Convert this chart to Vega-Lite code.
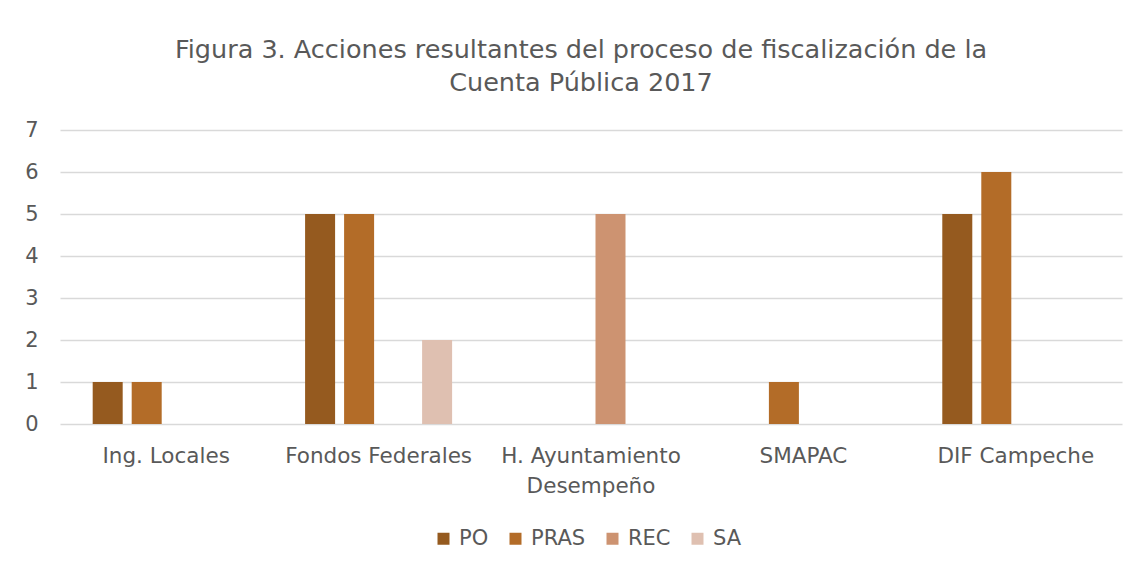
{
  "$schema": "https://vega.github.io/schema/vega-lite/v6.json",
  "width": 1062,
  "height": 294,
  "autosize": {"type": "none"},
  "padding": {"left": 60, "top": 130, "right": 25, "bottom": 145},
  "background": "white",
  "title": {
    "text": ["Figura 3. Acciones resultantes del proceso de fiscalización de la", "Cuenta Pública 2017"],
    "font": "DejaVu Sans",
    "fontSize": 25.5,
    "fontWeight": "normal",
    "color": "#595959",
    "lineHeight": 33,
    "anchor": "middle",
    "dx": -10,
    "offset": 23
  },
  "data": {
    "values": [
      {"categoria": "Ing. Locales", "serie": "PO", "valor": 1},
      {"categoria": "Ing. Locales", "serie": "PRAS", "valor": 1},
      {"categoria": "Fondos Federales", "serie": "PO", "valor": 5},
      {"categoria": "Fondos Federales", "serie": "PRAS", "valor": 5},
      {"categoria": "Fondos Federales", "serie": "SA", "valor": 2},
      {"categoria": "H. Ayuntamiento Desempeño", "serie": "REC", "valor": 5},
      {"categoria": "SMAPAC", "serie": "PRAS", "valor": 1},
      {"categoria": "DIF Campeche", "serie": "PO", "valor": 5},
      {"categoria": "DIF Campeche", "serie": "PRAS", "valor": 6}
    ]
  },
  "mark": {"type": "bar"},
  "encoding": {
    "x": {
      "field": "categoria",
      "type": "nominal",
      "sort": ["Ing. Locales", "Fondos Federales", "H. Ayuntamiento Desempeño", "SMAPAC", "DIF Campeche"],
      "scale": {"paddingInner": 0, "paddingOuter": 0},
      "axis": {
        "title": null,
        "labelAngle": 0,
        "ticks": false,
        "domain": false,
        "labelPadding": 21,
        "labelFont": "DejaVu Sans",
        "labelFontSize": 21.5,
        "labelColor": "#595959",
        "labelLineHeight": 30,
        "labelLimit": 400,
        "labelOverlap": false,
        "labelExpr": "datum.label == 'H. Ayuntamiento Desempeño' ? ['H. Ayuntamiento', 'Desempeño'] : datum.label"
      }
    },
    "xOffset": {
      "field": "serie",
      "type": "nominal",
      "scale": {"domain": ["PO", "PRAS", "REC", "SA"], "paddingInner": 0.2308, "paddingOuter": 0.838}
    },
    "y": {
      "field": "valor",
      "type": "quantitative",
      "scale": {"domain": [0, 7], "nice": false},
      "axis": {
        "title": null,
        "values": [0, 1, 2, 3, 4, 5, 6, 7],
        "labelOverlap": false,
        "ticks": false,
        "domain": false,
        "labelPadding": 22,
        "labelFont": "DejaVu Sans",
        "labelFontSize": 21,
        "labelColor": "#595959",
        "gridColor": "#d9d9d9",
        "gridWidth": 1.5
      }
    },
    "color": {
      "field": "serie",
      "type": "nominal",
      "scale": {"domain": ["PO", "PRAS", "REC", "SA"], "range": ["#955a1f", "#b36c28", "#cd9371", "#dfc0b1"]},
      "legend": {
        "title": null,
        "orient": "none",
        "legendX": 373,
        "legendY": 398,
        "direction": "horizontal",
        "symbolType": "square",
        "symbolSize": 144,
        "symbolStrokeWidth": 0,
        "labelFont": "DejaVu Sans",
        "labelFontSize": 21,
        "labelColor": "#595959",
        "labelOffset": 5,
        "columnPadding": 16
      }
    }
  },
  "config": {"view": {"stroke": null}}
}
